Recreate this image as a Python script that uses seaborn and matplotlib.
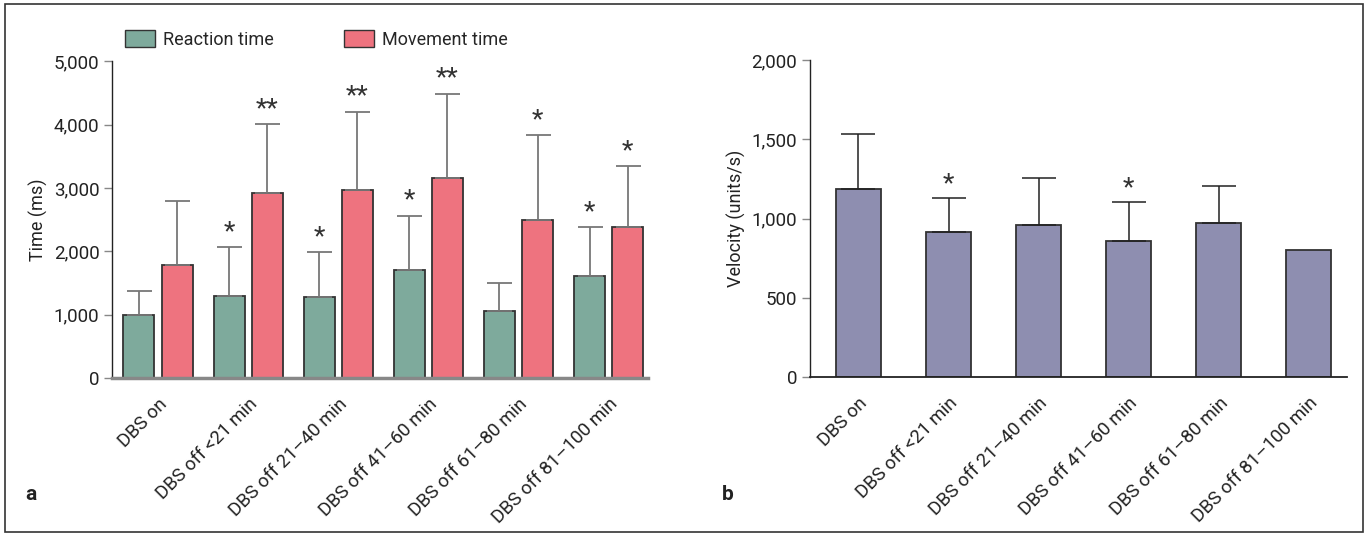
import numpy as np
import pandas as pd
import matplotlib.pyplot as plt
import matplotlib.patches as mpatches
from matplotlib.ticker import FuncFormatter
import seaborn as sns

# Data
conditions = ["DBS on", "DBS off <21 min", "DBS off 21\u201340 min",
              "DBS off 41\u201360 min", "DBS off 61\u201380 min", "DBS off 81\u2013100 min"]
reaction_mean = [1000, 1300, 1280, 1700, 1050, 1610]
reaction_sd = [370, 760, 710, 860, 450, 770]
reaction_sig = ["", "*", "*", "*", "", "*"]
movement_mean = [1790, 2920, 2970, 3150, 2500, 2390]
movement_sd = [1000, 1090, 1230, 1340, 1330, 950]
movement_sig = ["", "**", "**", "**", "*", "*"]
velocity_mean = [1185, 915, 960, 860, 975, 800]
velocity_sd = [350, 215, 295, 245, 230, 0]
velocity_sig = ["", "*", "", "*", "", ""]

green = "#7eaa9c"
red = "#ee737f"
purple = "#8e8eb0"

sns.set_theme(style="white")
plt.rcParams['font.family'] = ['Roboto', 'DejaVu Sans']

fig = plt.figure(figsize=(13.68, 5.36), dpi=100)
ax1 = fig.add_axes([0.0819, 0.2948, 0.392, 0.591])
ax2 = fig.add_axes([0.592, 0.2966, 0.393, 0.591])

comma = FuncFormatter(lambda v, p: f"{int(v):,}")

# ---- panel a ----
df_a = pd.DataFrame({
    "condition": conditions * 2,
    "measure": ["Reaction time"] * 6 + ["Movement time"] * 6,
    "time": reaction_mean + movement_mean,
})
sns.barplot(data=df_a, x="condition", y="time", hue="measure", ax=ax1,
            palette=[green, red], width=0.844, gap=0.185, errorbar=None,
            edgecolor="#333333", linewidth=1.3, legend=False, saturation=1)

for cont, sd, sig in zip(ax1.containers, [reaction_sd, movement_sd],
                         [reaction_sig, movement_sig]):
    xs = [p.get_x() + p.get_width() / 2 for p in cont.patches]
    hs = [p.get_height() for p in cont.patches]
    ax1.errorbar(xs, hs, yerr=[np.zeros(len(sd)), sd], fmt="none",
                 ecolor="#777777", elinewidth=1.3, capsize=9, capthick=1.3, zorder=1)
    for x, h, s, t in zip(xs, hs, sd, sig):
        if t:
            ax1.text(x, h + s + 50, t, ha="center", va="bottom", fontsize=19,
                     color="#333333")

ax1.set_ylim(0, 5000)
ax1.set_xlim(-0.51, 5.44)
ax1.set_yticks([0, 1000, 2000, 3000, 4000, 5000])
ax1.yaxis.set_major_formatter(comma)
ax1.set_ylabel("Time (ms)", fontsize=13, color="#222222")
ax1.set_xlabel("")

handles = [mpatches.Patch(facecolor=green, edgecolor="#333333", label="Reaction time"),
           mpatches.Patch(facecolor=red, edgecolor="#333333", label="Movement time")]
ax1.legend(handles=handles, loc="lower left", bbox_to_anchor=(0.0, 1.0), ncol=2,
           frameon=False, fontsize=13, handlelength=1.7, handleheight=1.1,
           columnspacing=3.9, handletextpad=0.4, borderaxespad=0.3)

# ---- panel b ----
df_b = pd.DataFrame({"condition": conditions, "velocity": velocity_mean})
sns.barplot(data=df_b, x="condition", y="velocity", ax=ax2, color=purple,
            width=0.5, errorbar=None, edgecolor="#333333", linewidth=1.3,
            saturation=1)
cont = ax2.containers[0]
xs = [p.get_x() + p.get_width() / 2 for p in cont.patches]
hs = [p.get_height() for p in cont.patches]
ax2.errorbar([x for x, s in zip(xs, velocity_sd) if s > 0],
             [h for h, s in zip(hs, velocity_sd) if s > 0],
             yerr=[[0] * sum(s > 0 for s in velocity_sd), [s for s in velocity_sd if s > 0]],
             fmt="none", ecolor="#222222", elinewidth=1.1, capsize=12, capthick=1.1, zorder=1)
for x, h, s, t in zip(xs, hs, velocity_sd, velocity_sig):
    if t:
        ax2.text(x, h + s + 12, t, ha="center", va="bottom", fontsize=19, color="#333333")

ax2.set_ylim(0, 2000)
ax2.set_xlim(-0.54, 5.43)
ax2.set_yticks([0, 500, 1000, 1500, 2000])
ax2.yaxis.set_major_formatter(comma)
ax2.set_ylabel("Velocity (units/s)", fontsize=13, color="#222222")
ax2.set_xlabel("")

for ax, bcol, blw in [(ax1, "#888888", 2.5), (ax2, "#222222", 1.3)]:
    sns.despine(ax=ax)
    ax.spines["left"].set_color("#222222")
    ax.spines["left"].set_linewidth(1.0)
    ax.spines["bottom"].set_color(bcol)
    ax.spines["bottom"].set_linewidth(blw)
    ax.tick_params(axis="y", left=True, length=6, width=1, color="#888888",
                   labelsize=13.5, labelcolor="#222222", pad=3)
    ax.tick_params(axis="x", bottom=False, labelsize=13.5, labelcolor="#222222", pad=6)
    ax.set_xticks(ax.get_xticks())
    ax.set_xticklabels(conditions, rotation=45, ha="right", rotation_mode="anchor")

fig.text(25 / 1368, 1 - 500 / 536, "a", fontsize=15, fontweight="bold", color="#222222")
fig.text(722 / 1368, 1 - 500 / 536, "b", fontsize=15, fontweight="bold", color="#222222")

fig.patches.append(mpatches.Rectangle((0.004, 0.008), 0.992, 0.984, transform=fig.transFigure,
                                      fill=False, edgecolor="#333333", linewidth=1.2))

fig.savefig("out.png", dpi=100)
